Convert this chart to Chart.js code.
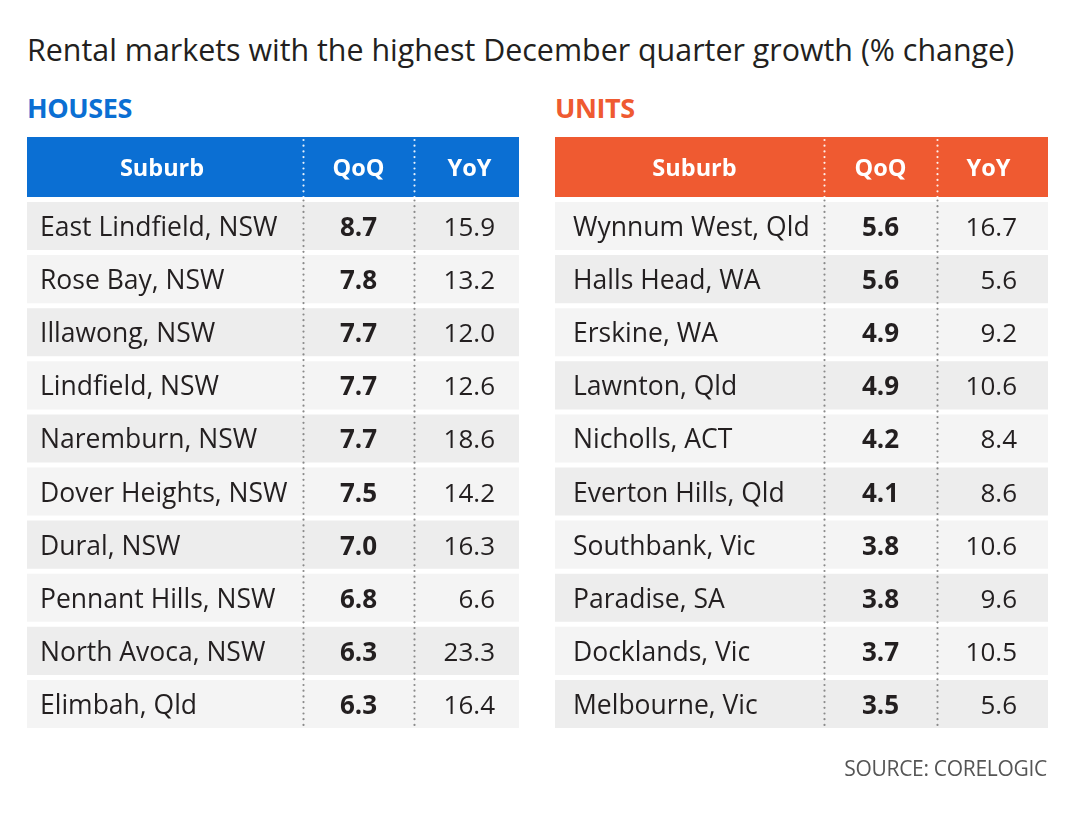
<!DOCTYPE html>
<html>
<head>
<meta charset="utf-8">
<script src="https://cdn.jsdelivr.net/npm/chart.js@4.4.1/dist/chart.umd.min.js"></script>
<style>
    body { margin: 0; background: #fff; width: 1080px; height: 830px; position: relative; overflow: hidden;
           font-family: 'Open Sans', sans-serif; color: #231f20; }
    .txt { position: absolute; line-height: 1; white-space: nowrap; }
    #title { left: 27px; top: 35px; font-size: 30.4px; }
    .section { top: 94px; font-size: 27px; font-weight: 700; letter-spacing: -0.4px; }
    #houses-label { left: 27px; color: #0b6fd3; }
    #units-label { left: 555px; color: #ef5a31; }
    #source { right: 33px; top: 758px; font-size: 21px; color: #555; letter-spacing: -0.3px; }
    .box { position: absolute; top: 0; height: 760px; }
    #housesBox { left: 27px; width: 492px; }
    #unitsBox { left: 555px; width: 493px; }
</style>
</head>
<body>
<div class="txt" id="title">Rental markets with the highest December quarter growth (% change)</div>
<div class="txt section" id="houses-label">HOUSES</div>
<div class="txt section" id="units-label">UNITS</div>
<div class="box" id="housesBox"><canvas id="housesChart"></canvas></div>
<div class="box" id="unitsBox"><canvas id="unitsChart"></canvas></div>
<div class="txt" id="source">SOURCE: CORELOGIC</div>

<script>
// Table data
const columnHeads = ['Suburb', 'QoQ', 'YoY'];

const houseSuburbs = ['East Lindfield, NSW', 'Rose Bay, NSW', 'Illawong, NSW', 'Lindfield, NSW', 'Naremburn, NSW',
    'Dover Heights, NSW', 'Dural, NSW', 'Pennant Hills, NSW', 'North Avoca, NSW', 'Elimbah, Qld'];
const houseQoQ = [8.7, 7.8, 7.7, 7.7, 7.7, 7.5, 7.0, 6.8, 6.3, 6.3];
const houseYoY = [15.9, 13.2, 12.0, 12.6, 18.6, 14.2, 16.3, 6.6, 23.3, 16.4];

const unitSuburbs = ['Wynnum West, Qld', 'Halls Head, WA', 'Erskine, WA', 'Lawnton, Qld', 'Nicholls, ACT',
    'Everton Hills, Qld', 'Southbank, Vic', 'Paradise, SA', 'Docklands, Vic', 'Melbourne, Vic'];
const unitQoQ = [5.6, 5.6, 4.9, 4.9, 4.2, 4.1, 3.8, 3.8, 3.7, 3.5];
const unitYoY = [16.7, 5.6, 9.2, 10.6, 8.4, 8.6, 10.6, 9.6, 10.5, 5.6];

const TEXT = '#231f20';
const FONT = "'Open Sans', sans-serif";

// Draws header bar, dotted column rules and the cell texts
function tablePlugin(cfg) {
    return {
        id: 'tableText',
        afterDraw(chart) {
            const ctx = chart.ctx;
            const xs = chart.scales.x;
            const area = chart.chartArea;
            const headTop = area.top - 62.5;
            const headBottom = area.top - 2.5;
            const edges = cfg.edges.map(e => xs.getPixelForValue(e));

            ctx.save();
            // header
            ctx.fillStyle = cfg.headColor;
            ctx.fillRect(edges[0], headTop, edges[3] - edges[0], headBottom - headTop);
            ctx.fillStyle = '#fff';
            ctx.font = `700 23.5px ${FONT}`;
            ctx.textAlign = 'center';
            ctx.textBaseline = 'alphabetic';
            columnHeads.forEach((h, i) => {
                ctx.fillText(h, (edges[i] + edges[i + 1]) / 2 + (cfg.headShift[i] || 0), (headTop + headBottom) / 2 + 8.5);
            });

            // dotted rules
            ctx.lineCap = 'round';
            ctx.lineWidth = 2.2;
            ctx.setLineDash([0, 5.7]);
            [1, 2].forEach(k => {
                const px = Math.round(edges[k]) + 0.5;
                ctx.strokeStyle = 'rgba(255,255,255,0.9)';
                ctx.beginPath(); ctx.moveTo(px, headTop + 3); ctx.lineTo(px, headBottom); ctx.stroke();
                ctx.strokeStyle = '#8a8a8a';
                ctx.beginPath(); ctx.moveTo(px, area.top + 1); ctx.lineTo(px, area.bottom - 2); ctx.stroke();
            });
            ctx.setLineDash([]);

            // cell texts, placed on the bar elements
            const cols = [cfg.suburbs, cfg.qoq, cfg.yoy];
            ctx.fillStyle = TEXT;
            cols.forEach((vals, d) => {
                const meta = chart.getDatasetMeta(d);
                meta.data.forEach((el, i) => {
                    const p = el.getProps(['x', 'y', 'base'], true);
                    const left = Math.min(p.x, p.base), right = Math.max(p.x, p.base);
                    const yb = p.y + 10;
                    if (d === 0) {
                        ctx.font = `400 26.5px ${FONT}`;
                        ctx.textAlign = 'left';
                        ctx.fillText(vals[i], left + cfg.textPad, yb);
                    } else if (d === 1) {
                        ctx.font = `700 26px ${FONT}`;
                        ctx.textAlign = 'center';
                        ctx.fillText(vals[i].toFixed(1), (left + right) / 2, yb);
                    } else {
                        ctx.font = `400 26px ${FONT}`;
                        ctx.textAlign = 'right';
                        ctx.fillText(vals[i].toFixed(1), right - cfg.yoyPad, yb);
                    }
                });
            });
            ctx.restore();
        }
    };
}

function makeTable(canvasId, cfg) {
    const shade = i => ((i % 2 === 0) === cfg.darkFirst ? '#ededed' : '#f4f4f4');
    const cell = (a, b) => cfg.suburbs.map(() => [cfg.edges[a], cfg.edges[b]]);
    const ds = (data) => ({
        data: data,
        backgroundColor: ctx => shade(ctx.dataIndex),
        borderWidth: 0,
        barPercentage: 0.906,
        categoryPercentage: 1,
        grouped: false
    });
    return new Chart(document.getElementById(canvasId), {
        type: 'bar',
        data: {
            labels: cfg.suburbs,
            datasets: [ds(cell(0, 1)), ds(cell(1, 2)), ds(cell(2, 3))]
        },
        options: {
            indexAxis: 'y',
            responsive: true,
            maintainAspectRatio: false,
            animation: false,
            layout: { padding: { top: 199.5, bottom: 29.5, left: 0, right: 0 } },
            scales: {
                x: { type: 'linear', min: 0, max: 100, display: false },
                y: { type: 'category', display: false, offset: true }
            },
            plugins: {
                legend: { display: false },
                tooltip: { enabled: false },
                title: { display: false }
            }
        },
        plugins: [tablePlugin(cfg)]
    });
}

makeTable('housesChart', {
    suburbs: houseSuburbs, qoq: houseQoQ, yoy: houseYoY,
    edges: [0, 56.1, 78.66, 100],
    headColor: '#0b6fd3', darkFirst: true,
    textPad: 13, yoyPad: 24, headShift: [-3, 0, 3]
});

makeTable('unitsChart', {
    suburbs: unitSuburbs, qoq: unitQoQ, yoy: unitYoY,
    edges: [0, 54.56, 77.5, 100],
    headColor: '#ef5a31', darkFirst: false,
    textPad: 18, yoyPad: 31, headShift: [5, 0, -4]
});
</script>
</body>
</html>
